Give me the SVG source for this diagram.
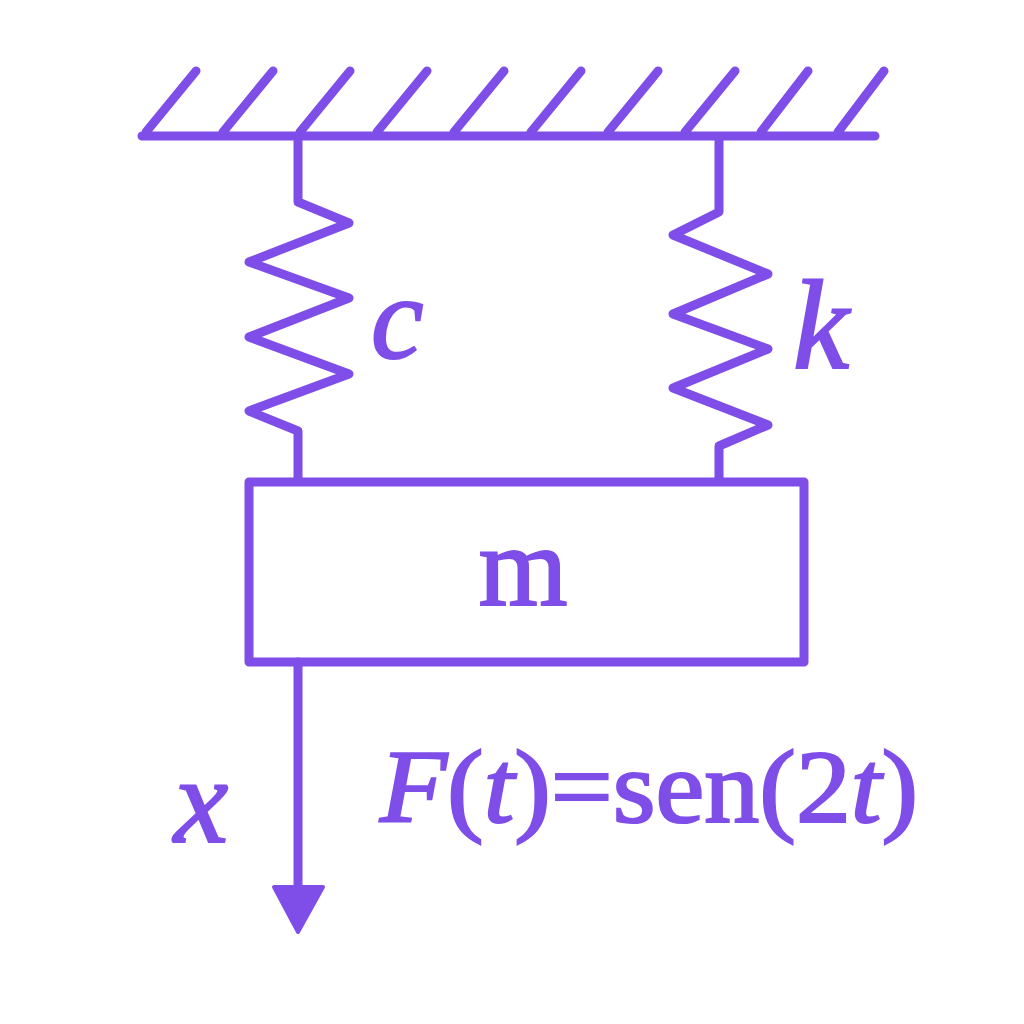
<svg xmlns="http://www.w3.org/2000/svg" width="1024" height="1024" viewBox="0 0 1024 1024">
<style>
.l{fill:none;stroke:#7f4de8;stroke-width:9;stroke-linecap:round;stroke-linejoin:round}
.t{fill:#7f4de8;stroke:#7f4de8;stroke-width:2.2;font-family:"Liberation Serif","DejaVu Serif",serif}
.i{font-style:italic}
</style>
<rect width="1024" height="1024" fill="#fff"/>
<g id="support" class="l">
<path d="M142 136H875M146 132L196 71M223 132L273 71M300 132L350 71M377 132L427 71M454 132L504 71M531 132L581 71M608 132L658 71M685 132L735 71M761 132L808 71M838 132L884 71"/>
</g>
<g id="connectors" class="l">
<path id="spring-c" d="M298 138V202L349 223L249 262L349 298L249 337L349 374L249 411L298 431V481"/>
<path id="spring-k" d="M719 138V212L673 235L768 274L673 314L768 349L673 388L768 425L719 446V481"/>
<path id="x-axis" d="M298 662V890"/>
<polygon points="274,887 323,887 298,932" fill="#7f4de8" stroke-width="4"/>
</g>
<g id="mass">
<rect class="l" x="249" y="482" width="555" height="180"/>
<text class="t" x="523" y="605" font-size="114" text-anchor="middle">m</text>
</g>
<g id="labels">
<text class="t i" x="371" y="358" font-size="118">c</text>
<text class="t i" x="793" y="368" font-size="126">k</text>
<text class="t i" x="174" y="842" font-size="122">x</text>
<text class="t" x="380" y="822" font-size="104" textLength="538" lengthAdjust="spacingAndGlyphs"><tspan class="i">F</tspan>(<tspan class="i">t</tspan>)=sen(2<tspan class="i">t</tspan>)</text>
</g>
</svg>
